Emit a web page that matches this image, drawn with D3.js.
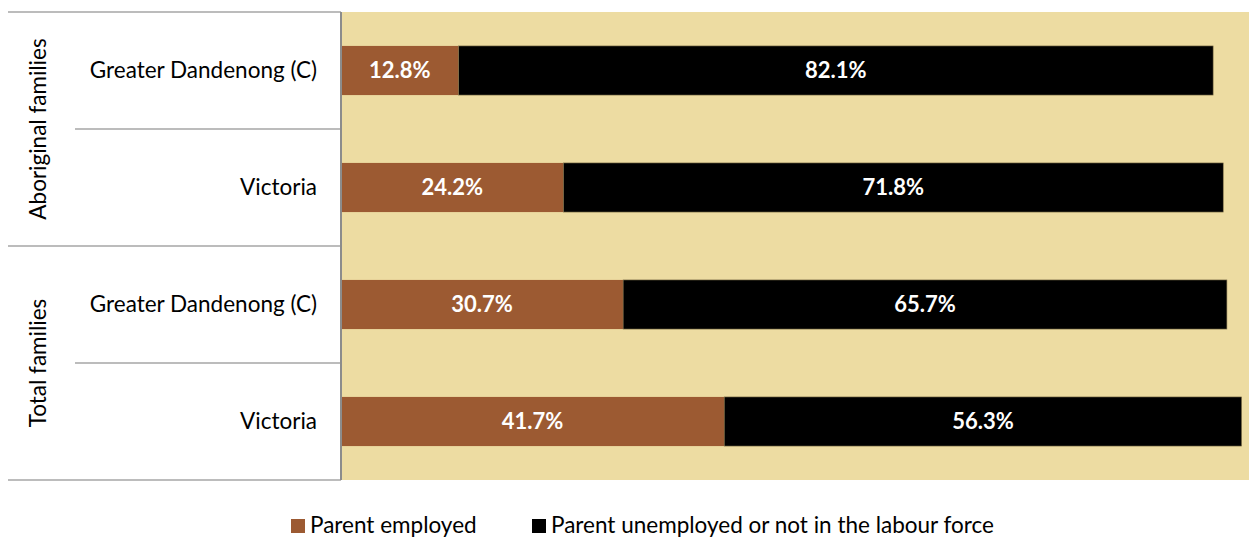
<!DOCTYPE html>
<html><head><meta charset="utf-8">
<script src="https://cdn.jsdelivr.net/npm/d3@7"></script>
<style>body{margin:0;background:#fff;}svg{display:block;}</style>
</head><body>
<svg id="c" width="1249" height="538"></svg>
<script>
const categories = ["Greater Dandenong (C)", "Victoria", "Greater Dandenong (C)", "Victoria"];
const groups = ["Aboriginal families", "Total families"];
const employed = [12.8, 24.2, 30.7, 41.7];
const unemployed = [82.1, 71.8, 65.7, 56.3];
const seriesNames = ["Parent employed", "Parent unemployed or not in the labour force"];
const colors = ["#9C5A32", "#000000"];

(function () {
const svg = d3.select("#c");
const font = "Lato, 'Open Sans', sans-serif";
const pLeft = 341, pTop = 12, pBottom = 480;
const x = d3.scaleLinear().domain([0, 100]).range([pLeft, 1260]);
const y = d3.scaleBand().domain(d3.range(categories.length)).range([pTop, pBottom]).paddingInner(0.58).paddingOuter(0.29);
const yb = d3.scaleBand().domain(d3.range(categories.length)).range([pTop, pBottom]);

svg.append("rect").attr("x", pLeft).attr("y", pTop).attr("width", 1249 - pLeft).attr("height", pBottom - pTop).attr("fill", "#EDDCA2");

const rows = categories.map((c, i) => ({i, e: employed[i], u: unemployed[i]}));
const g = svg.append("g");
g.selectAll("rect.be").data(rows).join("rect").attr("class", "be")
  .attr("x", x(0)).attr("y", d => y(d.i)).attr("width", d => x(d.e) - x(0)).attr("height", y.bandwidth())
  .attr("fill", colors[0]);
g.selectAll("rect.bu").data(rows).join("rect").attr("class", "bu")
  .attr("x", d => x(d.e)).attr("y", d => y(d.i)).attr("width", d => x(d.e + d.u) - x(d.e)).attr("height", y.bandwidth())
  .attr("fill", colors[1]).attr("stroke", "#8a7a50").attr("stroke-width", 0.6);

g.selectAll("text.le").data(rows).join("text").attr("class", "le")
  .attr("x", d => (x(0) + x(d.e)) / 2).attr("y", d => y(d.i) + y.bandwidth() / 2).attr("dy", "0.36em")
  .attr("text-anchor", "middle").attr("fill", "#fff").attr("font-family", font).attr("font-weight", "bold").attr("font-size", 22)
  .text(d => d.e.toFixed(1) + "%");
g.selectAll("text.lu").data(rows).join("text").attr("class", "lu")
  .attr("x", d => (x(d.e) + x(d.e + d.u)) / 2).attr("y", d => y(d.i) + y.bandwidth() / 2).attr("dy", "0.36em")
  .attr("text-anchor", "middle").attr("fill", "#fff").attr("font-family", font).attr("font-weight", "bold").attr("font-size", 22)
  .text(d => d.u.toFixed(1) + "%");

const lineC = "#a6a6a6";
const bounds = d3.range(categories.length + 1).map(i => i < categories.length ? yb(i) : pBottom);
bounds.forEach((b, i) => {
  svg.append("line").attr("x1", i % 2 === 0 ? 8 : 75).attr("x2", pLeft).attr("y1", b).attr("y2", b)
    .attr("stroke", lineC).attr("stroke-width", 1.5);
});
svg.append("line").attr("x1", pLeft).attr("x2", pLeft).attr("y1", pTop).attr("y2", pBottom).attr("stroke", "#8c8c8c").attr("stroke-width", 2);

svg.selectAll("text.cat").data(categories).join("text").attr("class", "cat")
  .attr("x", 317).attr("y", (d, i) => yb(i) + yb.bandwidth() / 2).attr("dy", "0.35em")
  .attr("text-anchor", "end").attr("font-family", font).attr("font-size", 22.5).attr("fill", "#000").text(d => d);

groups.forEach((gname, k) => {
  const cy = yb(k * 2) + yb.bandwidth();
  svg.append("text").attr("transform", `translate(38,${cy}) rotate(-90)`).attr("dy", "0.35em")
    .attr("text-anchor", "middle").attr("font-family", font).attr("font-size", 22.5).attr("fill", "#000").text(gname);
});

const legX = [291, 532];
seriesNames.forEach((s, i) => {
  svg.append("rect").attr("x", legX[i]).attr("y", 519).attr("width", 14).attr("height", 14).attr("fill", colors[i]);
  svg.append("text").attr("x", legX[i] + 19).attr("y", 525).attr("dy", "0.35em")
    .attr("font-family", font).attr("font-size", 22.5).attr("fill", "#000").text(s);
});
})();
</script>
</body></html>
